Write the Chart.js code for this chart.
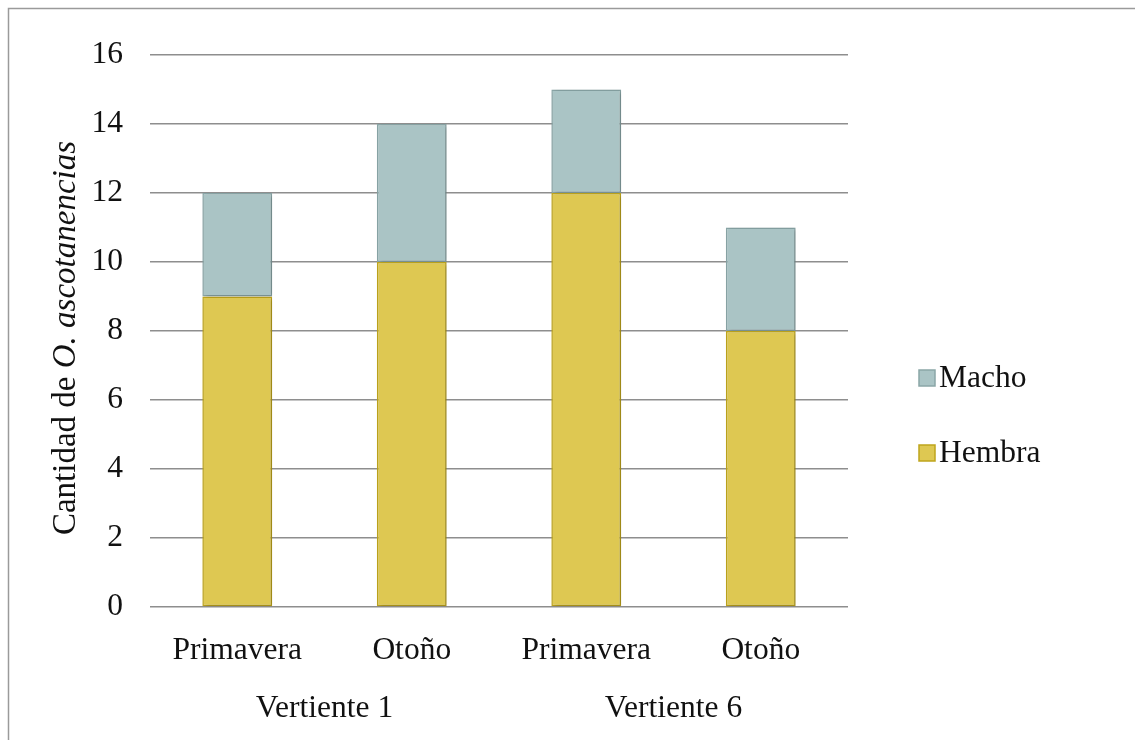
<!DOCTYPE html>
<html>
<head>
<meta charset="utf-8">
<script src="https://cdn.jsdelivr.net/npm/chart.js@4/dist/chart.umd.min.js"></script>
<style>
  html, body { margin: 0; padding: 0; background: #fff; }
  #wrap { width: 1135px; height: 740px; position: relative; }
</style>
</head>
<body>
<div id="wrap"><canvas id="c" width="1135" height="740"></canvas></div>
<script>
const categories = ['Primavera', 'Otoño', 'Primavera', 'Otoño'];
const groups = ['Vertiente 1', 'Vertiente 6'];
const hembra = [9, 10, 12, 8];
const macho = [3, 4, 3, 3];
const yTicks = [0, 2, 4, 6, 8, 10, 12, 14, 16];

const FONT = '"Liberation Serif", "Times New Roman", serif';
const SIZE = 31.5;
const TITLE_SIZE = 33;

const COLORS = {
  macho: { fill: '#aac4c5', border: '#8aa6a7' },
  hembra: { fill: '#dec852', border: '#bfa51c' },
  grid: '#8e8e8e',
  text: '#111111'
};

// Outer frame, y-axis title, group labels and legend
const decor = {
  id: 'decor',
  beforeDraw(chart) {
    const ctx = chart.ctx;
    ctx.save();
    ctx.fillStyle = '#fff';
    ctx.fillRect(0, 0, chart.width, chart.height);
    ctx.strokeStyle = '#9a9a9a';
    ctx.lineWidth = 1.5;
    ctx.strokeRect(8.5, 8.5, chart.width + 20, chart.height + 20);
    ctx.restore();
  },
  beforeDatasetsDraw(chart) {
    const ctx = chart.ctx;
    ctx.save();
    ctx.shadowColor = 'rgba(0,0,0,0.22)';
    ctx.shadowBlur = 4;
    ctx.shadowOffsetX = 2;
    ctx.shadowOffsetY = 1;
  },
  afterDatasetsDraw(chart) {
    chart.ctx.restore();
  },
  afterDraw(chart) {
    const ctx = chart.ctx;
    const x = chart.scales.x;
    ctx.save();
    ctx.fillStyle = COLORS.text;
    ctx.textBaseline = 'middle';

    // Group labels under pairs of categories
    ctx.textAlign = 'center';
    ctx.font = SIZE + 'px ' + FONT;
    groups.forEach((g, i) => {
      const cx = (x.getPixelForValue(i * 2) + x.getPixelForValue(i * 2 + 1)) / 2;
      ctx.fillText(g, cx, 709);
    });

    // Y-axis title with italic species name
    ctx.save();
    ctx.translate(66, 338);
    ctx.rotate(-Math.PI / 2);
    const partA = 'Cantidad de ';
    const partB = 'O. ascotanencias';
    ctx.font = TITLE_SIZE + 'px ' + FONT;
    const wA = ctx.measureText(partA).width;
    ctx.font = 'italic ' + TITLE_SIZE + 'px ' + FONT;
    const wB = ctx.measureText(partB).width;
    const start = -(wA + wB) / 2;
    ctx.textAlign = 'left';
    ctx.font = TITLE_SIZE + 'px ' + FONT;
    ctx.fillText(partA, start, 0);
    ctx.font = 'italic ' + TITLE_SIZE + 'px ' + FONT;
    ctx.fillText(partB, start + wA, 0);
    ctx.restore();

    // Legend
    const items = [
      { label: 'Macho', c: COLORS.macho, y: 378 },
      { label: 'Hembra', c: COLORS.hembra, y: 453 }
    ];
    ctx.textAlign = 'left';
    ctx.font = SIZE + 'px ' + FONT;
    items.forEach(it => {
      ctx.fillStyle = it.c.fill;
      ctx.fillRect(919, it.y - 8, 16, 16);
      ctx.strokeStyle = it.c.border;
      ctx.lineWidth = 1.5;
      ctx.strokeRect(919, it.y - 8, 16, 16);
      ctx.fillStyle = COLORS.text;
      ctx.fillText(it.label, 939, it.y + 1);
    });
    ctx.restore();
  }
};

new Chart(document.getElementById('c'), {
  type: 'bar',
  data: {
    labels: categories,
    datasets: [
      {
        label: 'Hembra',
        data: hembra,
        backgroundColor: COLORS.hembra.fill,
        borderColor: COLORS.hembra.border,
        borderWidth: 1.5,
        borderSkipped: false
      },
      {
        label: 'Macho',
        data: macho,
        backgroundColor: COLORS.macho.fill,
        borderColor: COLORS.macho.border,
        borderWidth: 1.5,
        borderSkipped: false
      }
    ]
  },
  options: {
    responsive: false,
    animation: false,
    devicePixelRatio: 1,
    layout: { padding: { left: 0, right: 287, top: 55, bottom: 0 } },
    plugins: {
      legend: { display: false },
      tooltip: { enabled: false }
    },
    datasets: {
      bar: { categoryPercentage: 1.0, barPercentage: 0.4 }
    },
    scales: {
      x: {
        stacked: true,
        grid: { display: false, drawTicks: false },
        border: { display: false },
        ticks: {
          color: COLORS.text,
          font: { family: FONT, size: SIZE },
          padding: 25,
          maxRotation: 0
        },
        afterFit(s) { s.height = 133; }
      },
      y: {
        stacked: true,
        min: 0,
        max: 16,
        afterBuildTicks(s) { s.ticks = yTicks.map(v => ({ value: v })); },
        grid: { color: COLORS.grid, lineWidth: 1.5, drawTicks: false },
        border: { display: false },
        ticks: {
          color: COLORS.text,
          font: { family: FONT, size: SIZE },
          padding: 27
        },
        afterFit(s) { s.width = 150; }
      }
    }
  },
  plugins: [decor]
});
</script>
</body>
</html>
